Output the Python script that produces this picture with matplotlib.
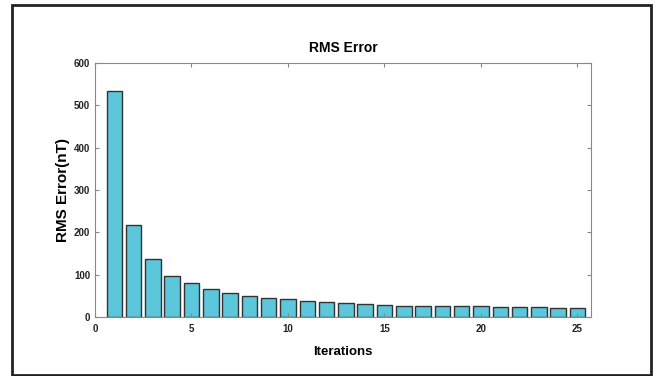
import matplotlib
matplotlib.use("Agg")
import matplotlib.pyplot as plt
from matplotlib.patches import Rectangle

iterations = list(range(1, 26))
rms_error = [535, 218, 137, 96, 81, 66, 57, 50, 44, 42, 38, 35, 33, 30, 29,
             27, 27, 26, 25, 25, 23, 23, 23, 22, 22]
x_ticks = [0, 5, 10, 15, 20, 25]
y_ticks = [0, 100, 200, 300, 400, 500, 600]

plt.rcParams['font.family'] = ['Liberation Sans Narrow', 'Liberation Sans', 'DejaVu Sans']

fig = plt.figure(figsize=(6.56, 3.76), dpi=100)
fig.patches.append(Rectangle((12/656, 1/376), 639/656, 370/376, transform=fig.transFigure,
                             fill=False, edgecolor='#222222', linewidth=2))
ax = fig.add_axes([95/656, 59/376, 496/656, 254/376])
ax.bar(iterations, rms_error, width=0.8, color='#5cc6da', edgecolor='#333333', linewidth=1.0)
ax.set_xlim(0, 25.7)
ax.set_ylim(0, 600)
ax.set_xticks(x_ticks)
ax.set_yticks(y_ticks)
ax.tick_params(direction='in', top=True, right=True, length=3, labelsize=7, colors='#888888',
               labelcolor='#222222')
ax.tick_params(axis='x', pad=5)
for lbl in ax.get_xticklabels() + ax.get_yticklabels():
    lbl.set_fontweight('bold')
for s in ax.spines.values():
    s.set_color('#888888')
    s.set_linewidth(0.8)
ax.set_title('RMS Error', fontsize=10, fontweight='bold', family='Liberation Sans', pad=8)
ax.set_xlabel('Iterations', fontsize=9.5, fontweight='bold', family='Liberation Sans', labelpad=9)
ax.set_ylabel('RMS Error(nT)', fontsize=11, fontweight='bold', family='Liberation Sans', labelpad=3)
fig.savefig('out.png', dpi=100)
